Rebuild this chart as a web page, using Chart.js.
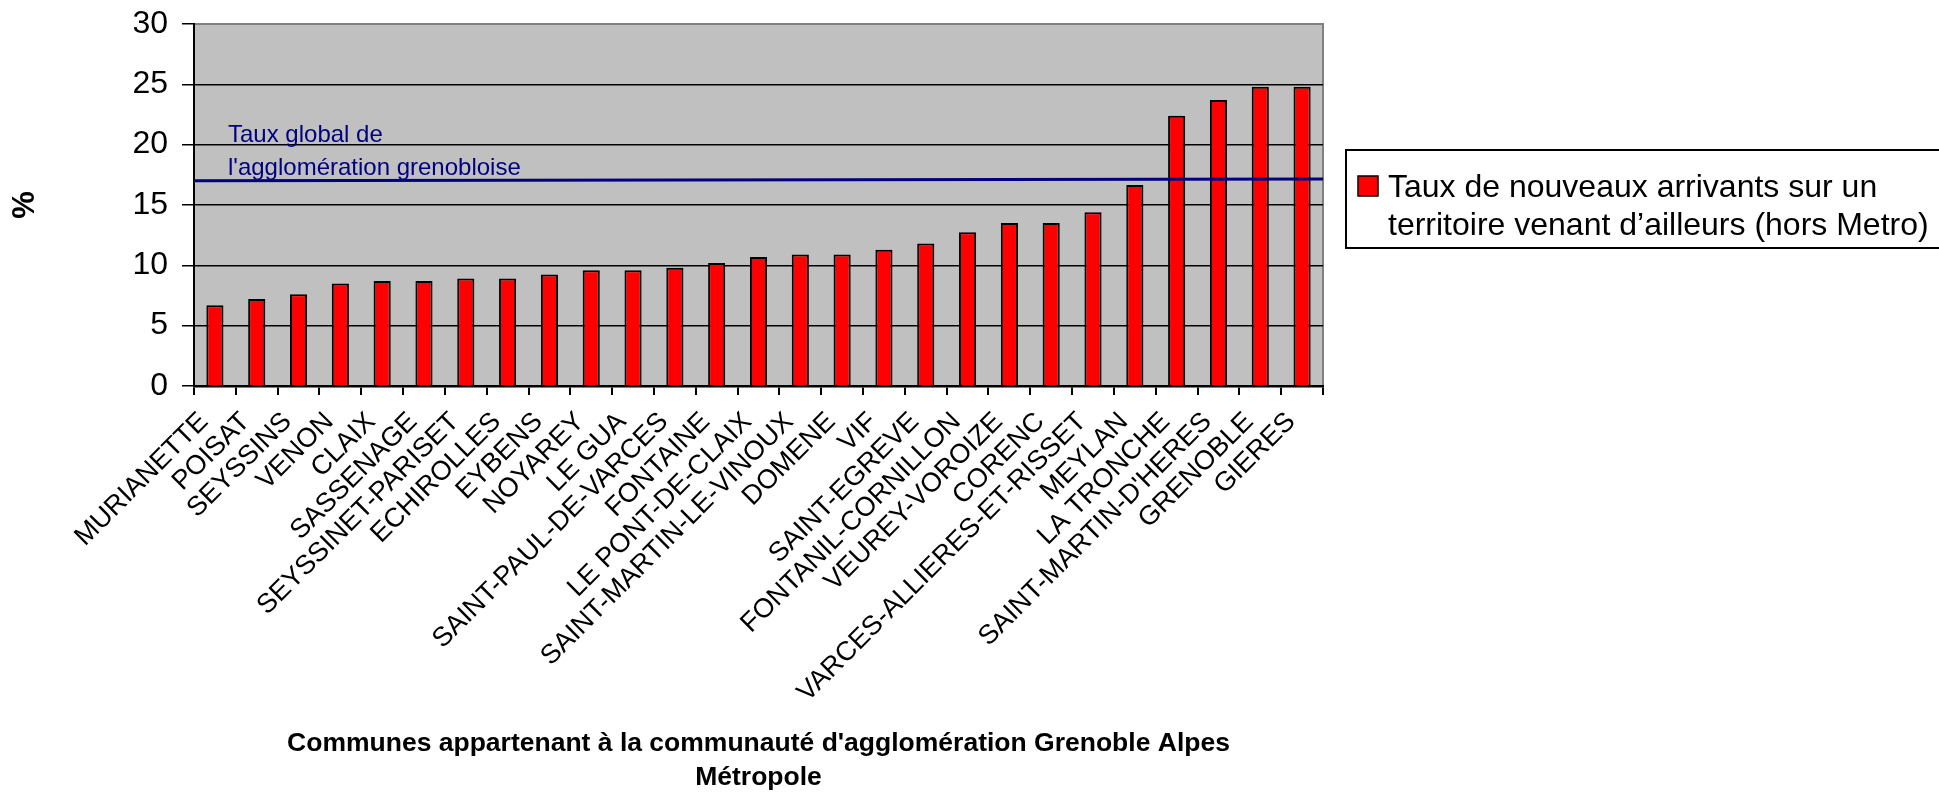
<!DOCTYPE html>
<html lang="fr">
<head>
<meta charset="utf-8">
<title>Taux de nouveaux arrivants</title>
<script src="https://cdn.jsdelivr.net/npm/chart.js@4.4.1/dist/chart.umd.min.js"></script>
<style>
    html, body { margin: 0; padding: 0; background: #fff; }
    #wrap { width: 1939px; height: 792px; }
</style>
</head>
<body>
<div id="wrap"><canvas id="chart-arrivants" width="1939" height="792"></canvas></div>
<script>
// Communes, sorted by rate
var communes = [
    'MURIANETTE', 'POISAT', 'SEYSSINS', 'VENON', 'CLAIX', 'SASSENAGE',
    'SEYSSINET-PARISET', 'ECHIROLLES', 'EYBENS', 'NOYAREY', 'LE GUA',
    'SAINT-PAUL-DE-VARCES', 'FONTAINE', 'LE PONT-DE-CLAIX', 'SAINT-MARTIN-LE-VINOUX',
    'DOMENE', 'VIF', 'SAINT-EGREVE', 'FONTANIL-CORNILLON', 'VEUREY-VOROIZE',
    'CORENC', 'VARCES-ALLIERES-ET-RISSET', 'MEYLAN', 'LA TRONCHE',
    "SAINT-MARTIN-D'HERES", 'GRENOBLE', 'GIERES'
];
// Taux de nouveaux arrivants (%)
var taux = [
    6.7, 7.2, 7.6, 8.5, 8.7, 8.7,
    8.9, 8.9, 9.25, 9.6, 9.6,
    9.8, 10.2, 10.7, 10.9,
    10.9, 11.3, 11.8, 12.75, 13.5,
    13.5, 14.4, 16.65, 22.4,
    23.7, 24.8, 24.8
];
// global rate line (left end, right end)
var tauxGlobal = [17.0, 17.15];
var tauxGlobalLabel = ['Taux global de', "l'agglomération grenobloise"];

var seriesLabel = ['Taux de nouveaux arrivants sur un', 'territoire venant d\u2019ailleurs (hors Metro)'];
var yTicks = [0, 5, 10, 15, 20, 25, 30];
var xTitle = ["Communes appartenant à la communauté d'agglomération Grenoble Alpes", 'Métropole'];
var yTitle = '%';

var FONT = 'Arial, "Liberation Sans", sans-serif';
Chart.defaults.font.family = FONT;
Chart.defaults.color = '#000';

// grey plot area + frame
var plotBackground = {
    id: 'plotBackground',
    beforeDraw: function (chart) {
        var ctx = chart.ctx, a = chart.chartArea;
        ctx.save();
        ctx.fillStyle = '#C0C0C0';
        ctx.fillRect(a.left, a.top, a.right - a.left, a.bottom - a.top);
        ctx.strokeStyle = '#808080';
        ctx.lineWidth = 2;
        ctx.beginPath();
        ctx.moveTo(a.left, a.top);
        ctx.lineTo(a.right, a.top);
        ctx.lineTo(a.right, a.bottom);
        ctx.stroke();
        ctx.restore();
    }
};

// global rate line, drawn over the bars
var globalLine = {
    id: 'globalLine',
    afterDatasetsDraw: function (chart) {
        var ctx = chart.ctx, a = chart.chartArea, y = chart.scales.y;
        ctx.save();
        ctx.strokeStyle = '#000080';
        ctx.lineWidth = 3;
        ctx.beginPath();
        ctx.moveTo(a.left, y.getPixelForValue(tauxGlobal[0]));
        ctx.lineTo(a.right, y.getPixelForValue(tauxGlobal[1]));
        ctx.stroke();

        ctx.fillStyle = '#000080';
        ctx.font = '24px ' + FONT;
        ctx.textAlign = 'left';
        ctx.textBaseline = 'alphabetic';
        ctx.fillText(tauxGlobalLabel[0], a.left + 34, 142);
        ctx.fillText(tauxGlobalLabel[1], a.left + 34, 175);
        ctx.restore();
    }
};

// legend box
var legendBox = {
    id: 'legendBox',
    afterDraw: function (chart) {
        var ctx = chart.ctx, a = chart.chartArea;
        var lx = a.right + 23, ly = 150;
        ctx.save();
        ctx.strokeStyle = '#000';
        ctx.lineWidth = 2;
        ctx.strokeRect(lx, ly, 700, 98);
        ctx.fillStyle = '#FF0000';
        ctx.fillRect(lx + 12, ly + 26, 20, 20);
        ctx.lineWidth = 1.5;
        ctx.strokeRect(lx + 12, ly + 26, 20, 20);
        ctx.fillStyle = '#000';
        ctx.font = '32px ' + FONT;
        ctx.textAlign = 'left';
        ctx.textBaseline = 'alphabetic';
        ctx.fillText(seriesLabel[0], lx + 42, ly + 47);
        ctx.fillText(seriesLabel[1], lx + 42, ly + 85);
        ctx.restore();
    }
};

new Chart(document.getElementById('chart-arrivants'), {
    type: 'bar',
    data: {
        labels: communes,
        datasets: [{
            label: seriesLabel.join(' '),
            data: taux,
            backgroundColor: '#FF0000',
            borderColor: '#000',
            borderWidth: 2,
            categoryPercentage: 1,
            barPercentage: 0.41
        }]
    },
    options: {
        responsive: false,
        animation: false,
        devicePixelRatio: 1,
        layout: {
            padding: { left: 0, top: 24, right: 616, bottom: 0 }
        },
        plugins: {
            legend: { display: false },
            tooltip: { enabled: false }
        },
        scales: {
            x: {
                grid: {
                    offset: true,
                    drawOnChartArea: false,
                    color: '#000',
                    lineWidth: 2,
                    tickLength: 9
                },
                border: { color: '#000', width: 2.5 },
                ticks: {
                    autoSkip: false,
                    minRotation: 45,
                    maxRotation: 45,
                    padding: 11,
                    labelOffset: -11,
                    font: { size: 27 }
                },
                title: {
                    display: true,
                    text: xTitle,
                    font: { size: 26.5, weight: 'bold', lineHeight: 1.3 },
                    padding: { top: 0, bottom: -3 }
                },
                afterFit: function (scale) {
                    scale.height = 792 - 386;
                    scale.paddingLeft = 0;
                    scale.paddingRight = 0;
                }
            },
            y: {
                min: 0,
                max: 30,
                afterBuildTicks: function (scale) {
                    scale.ticks = yTicks.map(function (v) { return { value: v }; });
                },
                grid: {
                    color: function (c) { return c.tick && c.tick.value === 30 ? '#808080' : '#000'; },
                    tickColor: '#000',
                    lineWidth: 1.5,
                    tickLength: 12
                },
                border: { color: '#000', width: 2 },
                ticks: {
                    padding: 14,
                    font: { size: 32 }
                },
                title: {
                    display: true,
                    text: yTitle,
                    font: { size: 31, weight: 'bold' },
                    padding: { top: 7 }
                },
                afterFit: function (scale) {
                    scale.width = 194;
                    scale.paddingTop = 0;
                    scale.paddingBottom = 0;
                }
            }
        }
    },
    plugins: [plotBackground, globalLine, legendBox]
});
</script>
</body>
</html>
